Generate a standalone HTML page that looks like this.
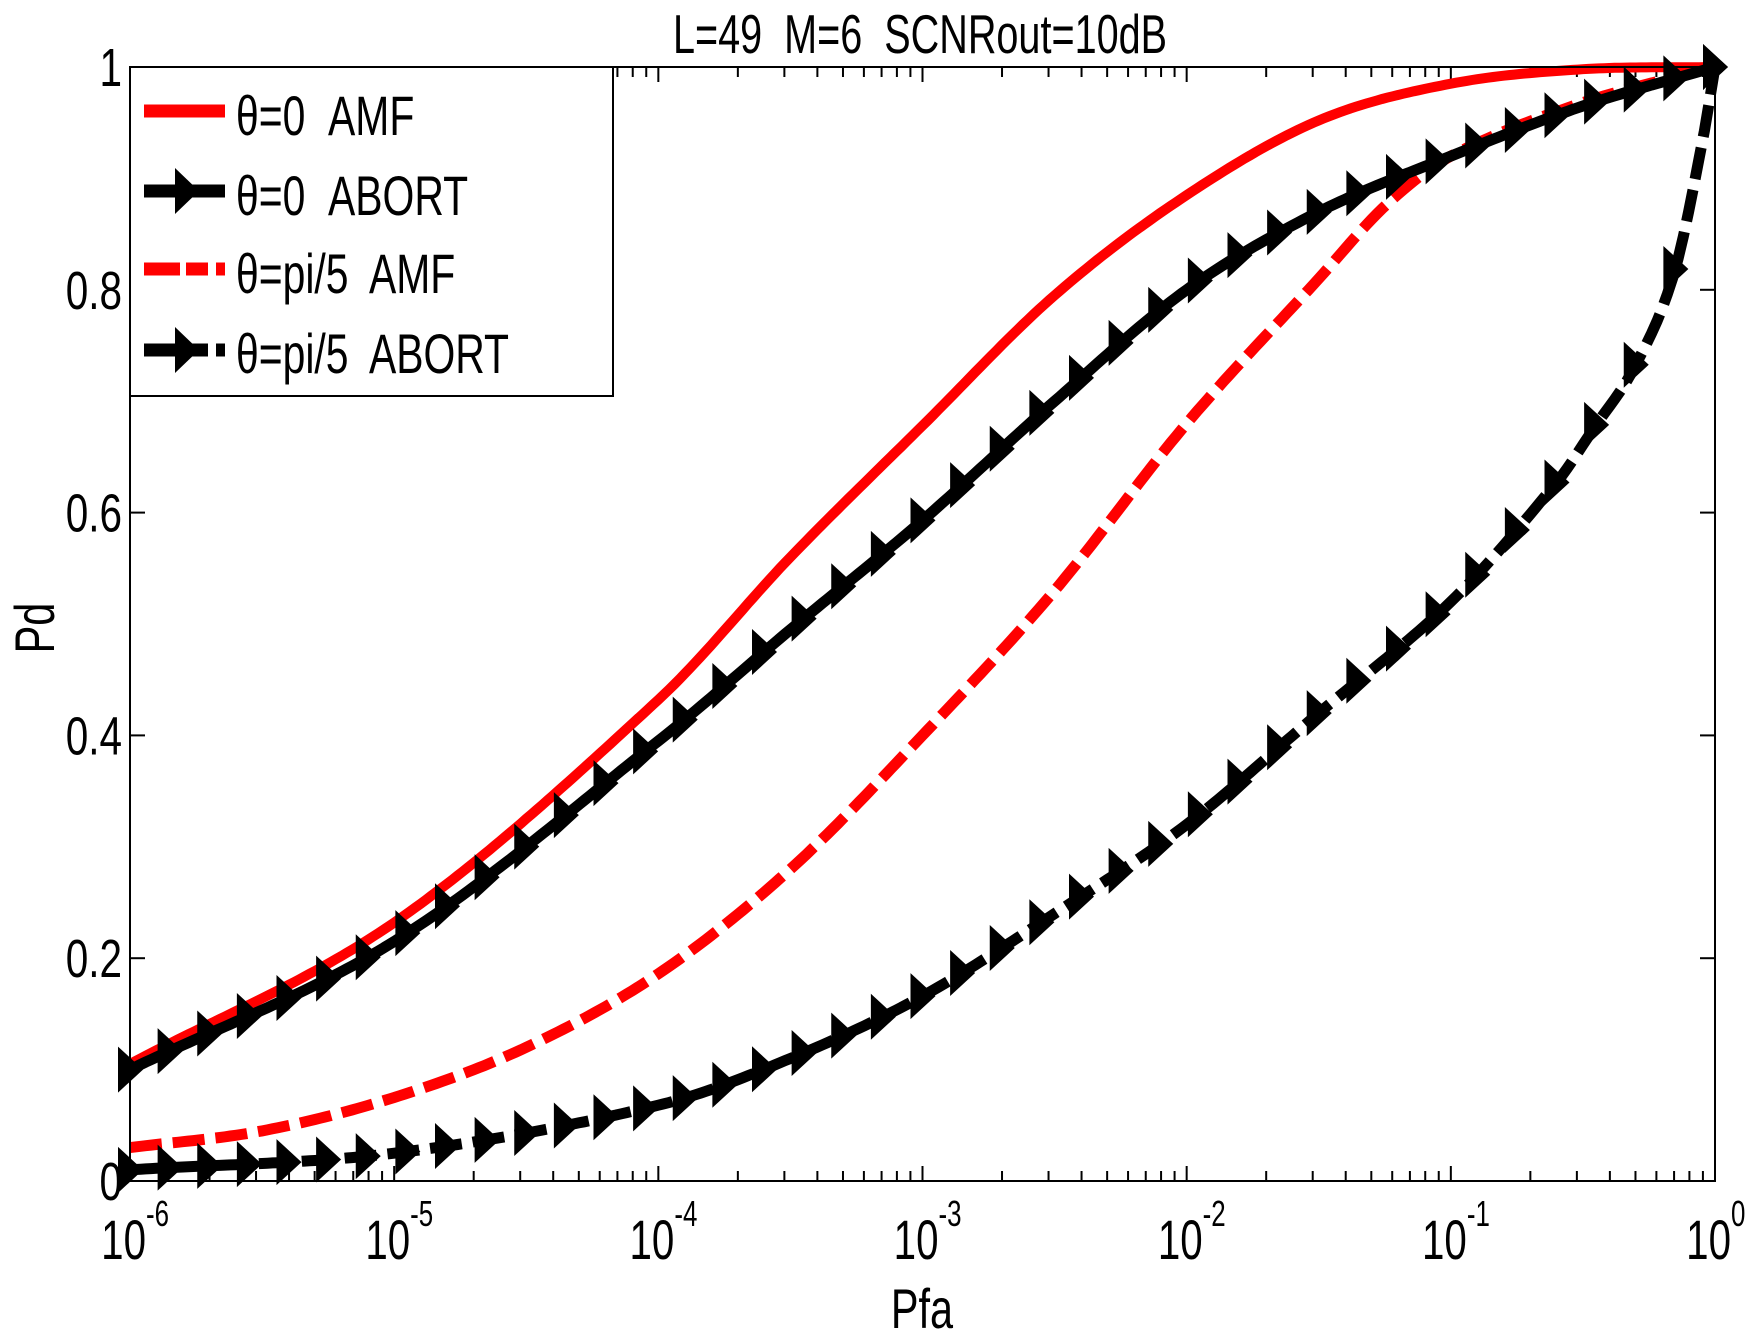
<!DOCTYPE html>
<html><head><meta charset="utf-8"><style>
html,body{margin:0;padding:0;background:#fff;}
svg{display:block;}
text{font-family:"Liberation Sans",sans-serif;fill:#000;white-space:pre;}
</style></head><body>
<svg id="s" width="1764" height="1339" viewBox="0 0 1764 1339" xmlns="http://www.w3.org/2000/svg" xml:space="preserve">
<rect width="1764" height="1339" fill="#fff"/>
<g id="ticks" stroke="#000" stroke-width="2"></g>
<g id="curves"></g>
<rect x="130" y="67" width="1585" height="1114" fill="none" stroke="#000" stroke-width="2"/>
<rect x="130" y="67" width="483" height="329" fill="#fff" stroke="#000" stroke-width="2"/>
<line x1="144" y1="111" x2="225" y2="111" stroke="#f00" stroke-width="13"/>
<g id="leg"></g>
<g font-size="56">
<text transform="translate(236,135) scale(0.73,1)">θ=0  AMF</text>
<text transform="translate(236,215) scale(0.73,1)">θ=0  ABORT</text>
<text transform="translate(236,293) scale(0.73,1)">θ=pi/5  AMF</text>
<text transform="translate(236,373) scale(0.73,1)">θ=pi/5  ABORT</text>
</g>
<text font-size="55" text-anchor="middle" transform="translate(920,53) scale(0.72,1)">L=49  M=6  SCNRout=10dB</text>
<g font-size="54" text-anchor="end" id="ylab"></g>
<g id="xlab"></g>
<text font-size="56" text-anchor="middle" transform="translate(922,1328) scale(0.74,1)">Pfa</text>
<text font-size="56" text-anchor="middle" transform="translate(54,628) rotate(-90) scale(0.74,1)">Pd</text>
</svg>
<script>
var L=130,R=1715,T=67,B=1181,W=R-L,H=B-T,D=W/6;
function X(l){return L+(l+6)*D;}
function Y(p){return B-p*H;}
var NS="http://www.w3.org/2000/svg";
function el(t,a,p){var e=document.createElementNS(NS,t);for(var k in a)e.setAttribute(k,a[k]);(p||document.getElementById('curves')).appendChild(e);return e;}
var tk=document.getElementById('ticks');
for(var d=-6;d<=0;d++){for(var m=1;m<=9;m++){if(d==0&&m>1)break;var x=X(d+Math.log10(m));var len=(m==1)?15:10;
el('line',{x1:x,y1:B,x2:x,y2:B-len},tk);el('line',{x1:x,y1:T,x2:x,y2:T+len},tk);}}
for(var i=0;i<=5;i++){var y=Y(i*0.2);el('line',{x1:L,y1:y,x2:L+15,y2:y},tk);el('line',{x1:R,y1:y,x2:R-15,y2:y},tk);}
var yl=document.getElementById('ylab');
['0','0.2','0.4','0.6','0.8','1'].forEach(function(s,i){var t=el('text',{transform:'translate(122,'+(Y(i*0.2)+19)+') scale(0.75,1)'},yl);t.textContent=s;});
var xl=document.getElementById('xlab');
for(var d=-6;d<=0;d++){var x=X(d);var t=el('text',{'font-size':56,'text-anchor':'end',transform:'translate('+(x+16)+',1259) scale(0.72,1)'},xl);t.textContent='10';
var t2=el('text',{'font-size':36,transform:'translate('+(x+16)+',1226) scale(0.72,1)'},xl);t2.textContent=String(d);}
function interp(pts,l){for(var i=0;i<pts.length-1;i++){if(l>=pts[i][0]&&l<=pts[i+1][0]){
var p0=pts[Math.max(i-1,0)],p1=pts[i],p2=pts[i+1],p3=pts[Math.min(i+2,pts.length-1)];
var t=(l-p1[0])/(p2[0]-p1[0]);var t2=t*t,t3=t2*t;
var m1=(p2[1]-p0[1])/(p2[0]-p0[0]||1)*(p2[0]-p1[0]),m2=(p3[1]-p1[1])/(p3[0]-p1[0]||1)*(p2[0]-p1[0]);
return (2*t3-3*t2+1)*p1[1]+(t3-2*t2+t)*m1+(-2*t3+3*t2)*p2[1]+(t3-t2)*m2;}}return pts[pts.length-1][1];}
var A=[[-6,0.105],[-5,0.232],[-4,0.432],[-3.5,0.56],[-3,0.678],[-2.5,0.795],[-2,0.885],[-1.5,0.952],[-1,0.985],[-0.5,0.998],[0,1]];
var Bk=[[-6,0.10],[-5,0.215],[-4,0.395],[-3.5,0.495],[-3,0.593],[-2.5,0.70],[-2,0.80],[-1.5,0.87],[-1,0.92],[-0.5,0.965],[0,1]];
var C=[[-6,0.03],[-5.5,0.045],[-5,0.075],[-4.5,0.12],[-4,0.186],[-3.5,0.28],[-3,0.40],[-2.5,0.53],[-2,0.68],[-1.5,0.81],[-1.25,0.875],[-1,0.92],[-0.5,0.968],[0,1]];
var Dd=[[-6,0.01],[-5,0.025],[-4,0.068],[-3.5,0.11],[-3,0.166],[-2.5,0.24],[-2,0.32],[-1.5,0.42],[-1,0.52],[-0.6,0.627],[-0.455,0.677],[-0.306,0.73],[-0.157,0.813],[-0.05,0.93],[0,1]];
function path(pts){var s='';for(var l=-6;l<=0.0001;l+=0.02){s+=(s?'L':'M')+X(l).toFixed(1)+','+Y(interp(pts,Math.min(l,0))).toFixed(1);}return s;}
function markers(pts){var s='';for(var k=0;k<=40;k++){var l=-6+k*0.15;if(l>0)l=0;var x=X(l),y=Y(interp(pts,l));
s+='M'+(x-12)+','+(y-23)+'L'+(x+13)+','+y+'L'+(x-12)+','+(y+23)+'Z';}return s;}
el('path',{d:path(C),fill:'none',stroke:'#f00','stroke-width':11,'stroke-dasharray':'32,11'});
el('path',{d:path(Dd),fill:'none',stroke:'#000','stroke-width':11,'stroke-dasharray':'32,11'});
el('path',{d:markers(Dd),fill:'#000'});
el('path',{d:path(A),fill:'none',stroke:'#f00','stroke-width':10});
el('path',{d:path(Bk),fill:'none',stroke:'#000','stroke-width':11});
el('path',{d:markers(Bk),fill:'#000'});
var lg=document.getElementById('leg');
el('line',{x1:144,y1:191,x2:225,y2:191,stroke:'#000','stroke-width':13},lg);
el('path',{d:'M175,168L199,191L175,214Z',fill:'#000'},lg);
el('path',{d:'M144,269H180M186,269H208M216,269H225',stroke:'#f00','stroke-width':13,fill:'none'},lg);
el('path',{d:'M144,350H208M216,350H225',stroke:'#000','stroke-width':13,fill:'none'},lg);
el('path',{d:'M175,327L199,350L175,373Z',fill:'#000'},lg);
</script>
</body></html>
